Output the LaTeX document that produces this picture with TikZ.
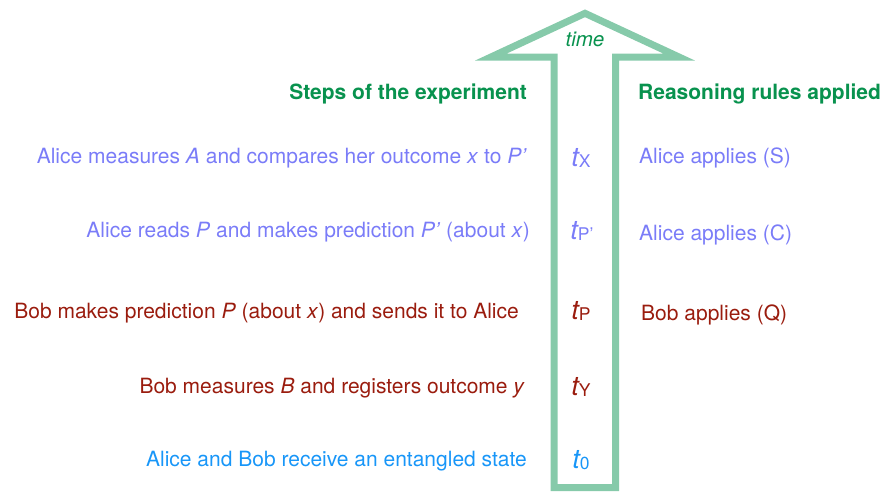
\documentclass[tikz,border=0pt]{standalone}
\usepackage{fontspec}
\setmainfont{TeX Gyre Heros}
\definecolor{arrowgreen}{HTML}{86CAAA}
\definecolor{headgreen}{HTML}{08924E}
\definecolor{lav}{HTML}{7A7CF8}
\definecolor{bobred}{HTML}{9A1C0E}
\definecolor{entblue}{HTML}{1896F8}
\newcommand\tlab[1]{{\fontsize{27}{27}\selectfont\itshape t}\raisebox{-1.5pt}{\fontsize{17.5}{17.5}\selectfont #1}}
\tikzset{
  txt/.style={inner sep=0pt, font=\fontsize{21}{25}\selectfont},
  lefttxt/.style={txt, anchor=base east},
  righttxt/.style={txt, anchor=base west},
  tnode/.style={inner sep=0pt, anchor=base},
  header/.style={inner sep=0pt, font=\fontsize{21}{25}\selectfont\bfseries, text=headgreen},
}
\begin{document}
\begin{tikzpicture}[x=1pt,y=-1pt]
\useasboundingbox (0,0) rectangle (880,491);
\draw[arrowgreen, line width=7pt, line join=miter, miter limit=10]
  (554,487.5) -- (554,57) -- (491,57) -- (585,13.3) -- (679,57) -- (615.5,57) -- (615.5,487.5) -- cycle;
\node[inner sep=0pt, anchor=base, text=headgreen, font=\fontsize{20.5}{24}\selectfont\itshape] (time) at (585,46) {time};
\node[header, anchor=base east] (steps) at (527,99) {Steps of the experiment};
\node[header, anchor=base west] (rules) at (638,99) {Reasoning rules applied};
% row 1
\node[lefttxt, text=lav] (s1) at (527,163) {Alice measures \textit{A} and compares her outcome \textit{x} to \textit{P’}};
\node[tnode, text=lav] (t1) at (581,166) {\tlab{X}};
\node[righttxt, text=lav] (r1) at (639,163) {Alice applies (S)};
% row 2
\node[lefttxt, text=lav] (s2) at (530,237) {Alice reads \textit{P} and makes prediction \textit{P’} (about \textit{x})};
\node[tnode, text=lav] (t2) at (582,239) {\tlab{P’}};
\node[righttxt, text=lav] (r2) at (639,240) {Alice applies (C)};
% row 3
\node[lefttxt, text=bobred] (s3) at (519,318) {Bob makes prediction \textit{P} (about \textit{x}) and sends it to Alice};
\node[tnode, text=bobred] (t3) at (581,319) {\tlab{P}};
\node[righttxt, text=bobred] (r3) at (641,320) {Bob applies (Q)};
% row 4
\node[lefttxt, text=bobred] (s4) at (525,393) {Bob measures \textit{B} and registers outcome \textit{y}};
\node[tnode, text=bobred] (t4) at (581,395) {\tlab{Y}};
% row 5
\node[lefttxt, text=entblue] (s5) at (527,466) {Alice and Bob receive an entangled state};
\node[tnode, text=entblue] (t5) at (581,468) {\tlab{0}};
\end{tikzpicture}
\end{document}
